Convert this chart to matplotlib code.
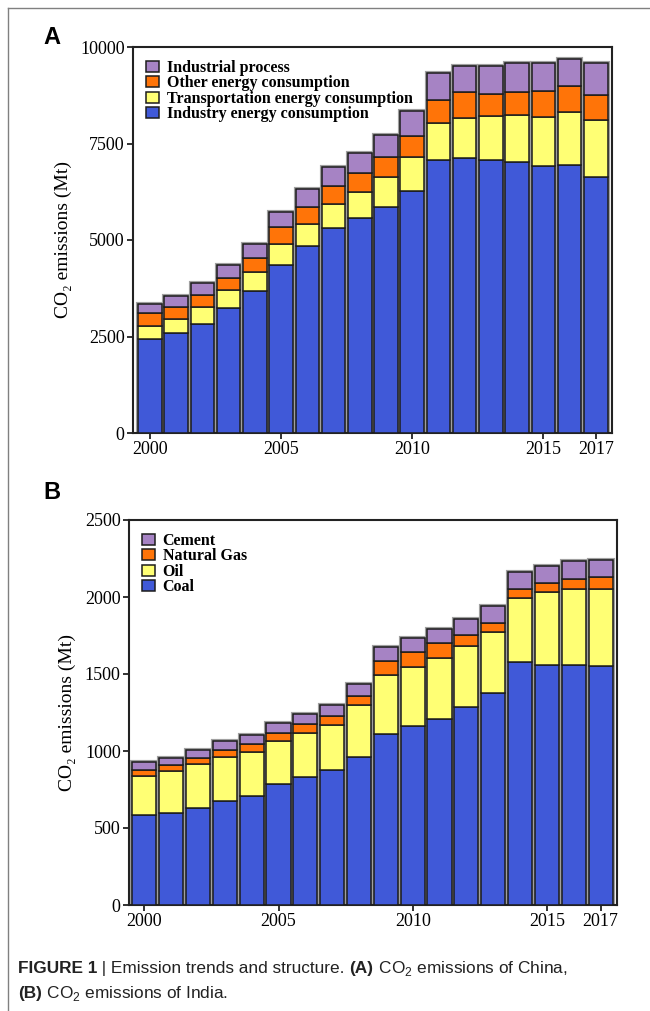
import matplotlib
matplotlib.use("Agg")
import matplotlib.pyplot as plt
import numpy as np
from matplotlib.patches import Patch
from matplotlib.lines import Line2D

plt.rcParams["mathtext.fontset"] = "custom"
plt.rcParams["mathtext.rm"] = "Liberation Sans"

# ---------------- data ----------------
years = list(range(2000, 2018))

# Panel A: China (Mt)
china_industry = [2443, 2579, 2831, 3247, 3680, 4356, 4857, 5317, 5577, 5862,
                  6268, 7065, 7135, 7083, 7021, 6927, 6953, 6623]
china_transport = [337, 374, 434, 459, 493, 535, 554, 613, 665, 779,
                   893, 979, 1021, 1117, 1205, 1255, 1359, 1489]
china_other = [321, 320, 319, 320, 372, 442, 441, 467, 503, 520,
               545, 587, 667, 579, 616, 675, 667, 641]
china_process = [241, 267, 304, 338, 356, 399, 460, 504, 519, 571,
                 639, 694, 683, 727, 735, 720, 718, 824]
china_labels = ["Industry energy consumption", "Transportation energy consumption",
                "Other energy consumption", "Industrial process"]

# Panel B: India (Mt)
india_coal = [582, 597, 630, 677, 705, 783, 831, 879, 963, 1110,
              1162, 1205, 1288, 1377, 1580, 1560, 1556, 1552]
india_oil = [258, 273, 283, 286, 289, 282, 286, 287, 337, 383,
             381, 401, 394, 396, 414, 470, 496, 500]
india_gas = [37, 39, 42, 43, 49, 54, 56, 61, 54, 89,
             97, 93, 71, 58, 58, 61, 67, 75]
india_cement = [49, 47, 53, 56, 58, 65, 67, 72, 78, 91,
                91, 95, 102, 108, 110, 110, 112, 115]
india_labels = ["Coal", "Oil", "Natural Gas", "Cement"]

xticks = [2000, 2005, 2010, 2015, 2017]
yticks_a = [0, 2500, 5000, 7500, 10000]
yticks_b = [0, 500, 1000, 1500, 2000, 2500]

colors = ["#4059D8", "#FFFF74", "#FF7408", "#A683C4"]

# ---------------- figure ----------------
W, H = 650, 1011
fig = plt.figure(figsize=(W / 100, H / 100), dpi=100)
serif = ["Liberation Serif", "DejaVu Serif"]


def ax_rect(l, r, t, b):
    return [l / W, 1 - b / H, (r - l) / W, (b - t) / H]


def draw_panel(ax, series, labels, yticks, ymax, xlim):
    x = np.array(years)
    total = np.sum(series, axis=0)
    # gray halo outline
    ax.bar(x, total, width=0.9, color="none", edgecolor="#a0a0a0",
           linewidth=3.0, zorder=2)
    bottom = np.zeros(len(years))
    handles = []
    for vals, c, lab in zip(series, colors, labels):
        ax.bar(x, vals, bottom=bottom, width=0.9, color=c,
               edgecolor="#1c1c1c", linewidth=1.1, zorder=3)
        bottom += np.array(vals)
        handles.append(Patch(facecolor=c, edgecolor="#1c1c1c", linewidth=1.1, label=lab))
    ax.set_xlim(*xlim)
    ax.set_ylim(0, ymax)
    ax.set_yticks(yticks)
    ax.set_xticks(xticks)
    ax.set_xticklabels([str(v) for v in xticks])
    ax.tick_params(axis="both", direction="out", length=4, width=1.3,
                   labelsize=13, color="#222", pad=2)
    for lab in ax.get_xticklabels() + ax.get_yticklabels():
        lab.set_fontfamily(serif)
    for s in ax.spines.values():
        s.set_linewidth(1.5)
        s.set_color("#222")
    ax.set_ylabel("CO₂ emissions (Mt)", fontsize=14, family=serif, labelpad=6)
    ax.legend(handles=handles[::-1], loc="upper left", frameon=False,
              prop={"family": serif, "weight": "bold", "size": 11.5},
              handlelength=0.8, handleheight=0.72, handletextpad=0.5,
              labelspacing=-0.03, borderaxespad=0.35, borderpad=0.45)
    return ax


axA = fig.add_axes(ax_rect(133, 612, 47, 433))
draw_panel(axA, [china_industry, china_transport, china_other, china_process],
           china_labels, yticks_a, 10000, (1999.35, 2017.62))

axB = fig.add_axes(ax_rect(129, 617, 520, 905))
draw_panel(axB, [india_coal, india_oil, india_gas, india_cement],
           india_labels, yticks_b, 2500, (1999.43, 2017.61))

# panel letters
fig.text(52 / W, 1 - 37 / H, "A", fontsize=17, fontweight="bold",
         family="Liberation Sans", ha="center", va="center")
fig.text(52 / W, 1 - 493 / H, "B", fontsize=17, fontweight="bold",
         family="Liberation Sans", ha="center", va="center")

# outer frame lines
fig.add_artist(Line2D([8 / W, 8 / W], [0, 1 - 8 / H], transform=fig.transFigure,
                      color="#808080", lw=1.0))
fig.add_artist(Line2D([8 / W, 1], [1 - 8 / H, 1 - 8 / H], transform=fig.transFigure,
                      color="#808080", lw=1.0))

# caption
cap_family = ["Liberation Sans", "DejaVu Sans"]
renderer = fig.canvas.get_renderer()


def runs(x_px, y_px, parts):
    x = x_px
    for txt, bold in parts:
        t = fig.text(x / W, 1 - y_px / H, txt, fontsize=12.4,
                     fontweight="bold" if bold else "normal",
                     family=cap_family, ha="left", va="baseline", color="#222")
        bb = t.get_window_extent(renderer)
        x = bb.x1


runs(18, 973, [("FIGURE 1", True), (" | Emission trends and structure. ", False),
               ("(A)", True), (" CO$_2$ emissions of China,", False)])
runs(18, 998, [("(B)", True), (" CO$_2$ emissions of India.", False)])

fig.savefig("out.png", dpi=100)
